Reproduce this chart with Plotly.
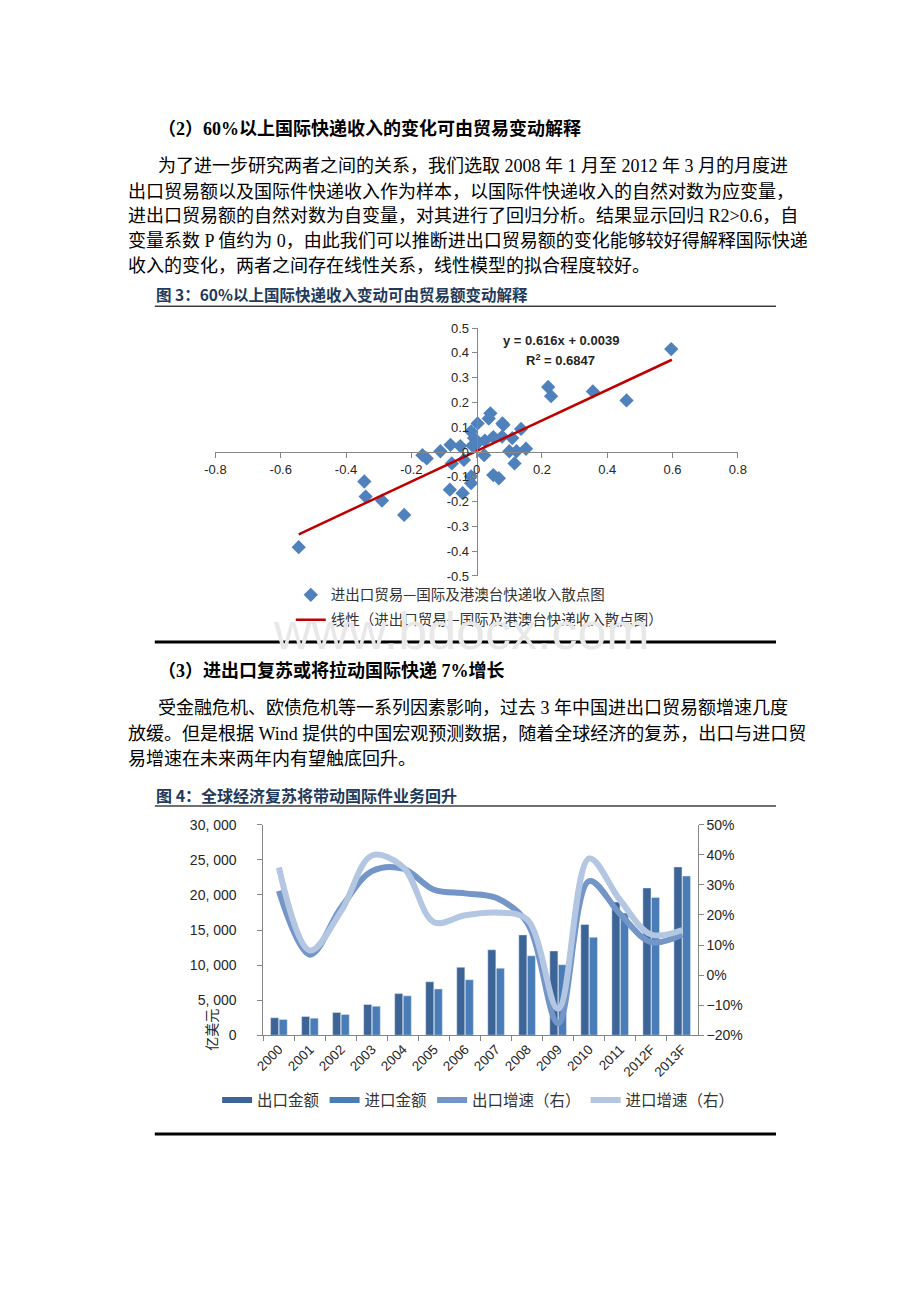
import plotly.graph_objects as go

W, H = 920, 1302


def px(x):
    return x / W


def py(y):
    return 1 - y / H


# ---------------- Figure 3 data (scatter) ----------------
trade_x = [0.596, 0.219, 0.228, 0.356, 0.459, 0.042, 0.037, 0.003, 0.079, 0.082,
           -0.017, 0.136, 0.109, 0.078, 0.051, 0.025, -0.008, 0.000, -0.013, -0.080,
           -0.050, -0.111, -0.166, -0.153, -0.076, -0.039, 0.023, 0.100, 0.122, 0.151,
           0.116, 0.051, 0.068, -0.017, -0.017, -0.082, -0.043, -0.344, -0.340, -0.290,
           -0.222, -0.545]
express_y = [0.415, 0.262, 0.225, 0.244, 0.208, 0.156, 0.135, 0.115, 0.115, 0.109,
             0.083, 0.093, 0.056, 0.062, 0.060, 0.046, 0.056, 0.033, 0.026, 0.029,
             0.024, 0.003, -0.013, -0.026, -0.046, -0.032, -0.013, 0.003, 0.003, 0.013,
             -0.046, -0.093, -0.106, -0.099, -0.126, -0.152, -0.166, -0.119, -0.180, -0.196,
             -0.254, -0.384]
trend_x = [-0.545, 0.598]
trend_y = [-0.332, 0.372]
f3_xticks = [-0.8, -0.6, -0.4, -0.2, 0, 0.2, 0.4, 0.6, 0.8]
f3_xlabels = ["-0.8", "-0.6", "-0.4", "-0.2", "0", "0.2", "0.4", "0.6", "0.8"]
f3_yticks = [0.5, 0.4, 0.3, 0.2, 0.1, 0, -0.1, -0.2, -0.3, -0.4, -0.5]
f3_ylabels = ["0.5", "0.4", "0.3", "0.2", "0.1", "0", "-0.1", "-0.2", "-0.3", "-0.4", "-0.5"]
f3_scatter_name = "进出口贸易—国际及港澳台快递收入散点图"
f3_trend_name = "线性（进出口贸易—国际及港澳台快递收入散点图）"
f3_equation = "y = 0.616x + 0.0039"
f3_r2 = "R<sup>2</sup> = 0.6847"

# ---------------- Figure 4 data (bars + lines) ----------------
years = ["2000", "2001", "2002", "2003", "2004", "2005", "2006", "2007", "2008",
         "2009", "2010", "2011", "2012F", "2013F"]
export_amt = [2492, 2661, 3256, 4382, 5933, 7620, 9690, 12178, 14307, 12016,
              15778, 18984, 21000, 24000]
import_amt = [2251, 2436, 2952, 4128, 5612, 6600, 7916, 9558, 11326, 10056,
              13962, 17435, 19650, 22700]
export_growth = [28.0, 6.8, 22.4, 34.6, 35.4, 28.4, 27.2, 25.7, 17.5, -16.0,
                 31.3, 20.3, 11.0, 13.5]
import_growth = [35.8, 8.2, 21.2, 39.8, 36.0, 17.6, 19.9, 20.8, 18.5, -11.2,
                 38.8, 24.9, 13.5, 15.0]
f4_lticks = [0, 5000, 10000, 15000, 20000, 25000, 30000]
f4_llabels = ["0", "5, 000", "10, 000", "15, 000", "20, 000", "25, 000", "30, 000"]
f4_names = ["出口金额", "进口金额", "出口增速（右）", "进口增速（右）"]

# ---------------- Text ----------------
heading2 = "<b>（2）60%以上国际快递收入的变化可由贸易变动解释</b>"
para1 = [
    "为了进一步研究两者之间的关系，我们选取 2008 年 1 月至 2012 年 3 月的月度进",
    "出口贸易额以及国际件快递收入作为样本，以国际件快递收入的自然对数为应变量，",
    "进出口贸易额的自然对数为自变量，对其进行了回归分析。结果显示回归 R2>0.6，自",
    "变量系数 P 值约为 0，由此我们可以推断进出口贸易额的变化能够较好得解释国际快递",
    "收入的变化，两者之间存在线性关系，线性模型的拟合程度较好。",
]
caption3 = "<b>图 3：60%以上国际快递收入变动可由贸易额变动解释</b>"
heading3 = "<b>（3）进出口复苏或将拉动国际快递 7%增长</b>"
para2 = [
    "受金融危机、欧债危机等一系列因素影响，过去 3 年中国进出口贸易额增速几度",
    "放缓。但是根据 Wind 提供的中国宏观预测数据，随着全球经济的复苏，出口与进口贸",
    "易增速在未来两年内有望触底回升。",
]
caption4 = "<b>图 4：全球经济复苏将带动国际件业务回升</b>"
unit_label = "亿美元"
watermark = "www.bdocx.com"

BODY_FONT = "Liberation Serif, Noto Sans CJK SC"
CJK_FONT = "Noto Sans CJK SC"
LAT_FONT = "Liberation Sans, Noto Sans CJK SC"

EXP_BAR = "#3C6496"
IMP_BAR = "#4A7DB7"
EXP_LINE = "#7495C8"
IMP_LINE = "#B3C6E2"

fig = go.Figure()

# Figure 3 traces
fig.add_trace(go.Scatter(
    x=trade_x, y=express_y, mode="markers", name=f3_scatter_name,
    marker=dict(symbol="diamond", size=11, color="#4F81BD"),
    xaxis="x", yaxis="y", legend="legend", legendgroup="a"))
fig.add_trace(go.Scatter(
    x=trend_x, y=trend_y, mode="lines", name=f3_trend_name,
    line=dict(color="#C00000", width=2.5),
    xaxis="x", yaxis="y", legend="legend", legendgroup="b"))

# Figure 4 traces
fig.add_trace(go.Bar(x=years, y=export_amt, marker_color=EXP_BAR, name=f4_names[0],
                     xaxis="x2", yaxis="y2", showlegend=False))
fig.add_trace(go.Bar(x=years, y=import_amt, marker_color=IMP_BAR, name=f4_names[1],
                     xaxis="x2", yaxis="y2", showlegend=False))
fig.add_trace(go.Scatter(x=years, y=export_growth, mode="lines", name=f4_names[2],
                         line=dict(color=EXP_LINE, width=6, shape="spline", smoothing=1.0),
                         xaxis="x2", yaxis="y3", showlegend=False))
fig.add_trace(go.Scatter(x=years, y=import_growth, mode="lines", name=f4_names[3],
                         line=dict(color=IMP_LINE, width=6, shape="spline", smoothing=1.0),
                         xaxis="x2", yaxis="y3", showlegend=False))
# legend entries for figure 4
for nm, col in zip(f4_names, [EXP_BAR, IMP_BAR, EXP_LINE, IMP_LINE]):
    fig.add_trace(go.Scatter(x=[None], y=[None], mode="lines", name=nm,
                             line=dict(color=col, width=6),
                             xaxis="x2", yaxis="y2", legend="legend2"))

tickfont3 = dict(family=LAT_FONT, size=13, color="#262626")
tickfont4 = dict(family=LAT_FONT, size=14, color="#262626")

fig.update_layout(
    width=W, height=H, margin=dict(l=0, r=0, t=0, b=0),
    paper_bgcolor="white", plot_bgcolor="rgba(0,0,0,0)",
    showlegend=True,
    barmode="group", bargap=0.45, bargroupgap=0.05,
    xaxis=dict(domain=[px(209), px(743)], range=[-0.8, 0.8], anchor="free",
               position=(py(324) + py(575)) / 2,
               tickvals=f3_xticks, ticktext=f3_xlabels, tickfont=tickfont3,
               showline=True, linecolor="#868686", linewidth=1,
               ticks="outside", ticklen=5, tickcolor="#868686",
               showgrid=False, zeroline=False),
    yaxis=dict(domain=[py(575), py(324)], range=[-0.5, 0.5], anchor="free",
               position=(px(209) + px(743)) / 2,
               tickvals=f3_yticks, ticktext=f3_ylabels, tickfont=tickfont3,
               showline=True, linecolor="#868686", linewidth=1,
               ticks="outside", ticklen=5, tickcolor="#868686",
               showgrid=False, zeroline=False),
    xaxis2=dict(domain=[px(258), px(702)], anchor="y2", type="category",
                tickangle=-45, tickfont=dict(family=LAT_FONT, size=13.5, color="#262626"),
                showline=True, linecolor="#868686", linewidth=1,
                ticks="outside", ticklen=5, tickcolor="#868686", tickson="boundaries",
                showgrid=False, zeroline=False),
    yaxis2=dict(domain=[py(1040), py(827)], anchor="x2", range=[0, 30000],
                tickvals=f4_lticks, ticktext=f4_llabels, tickfont=tickfont4,
                showline=True, linecolor="#868686", linewidth=1,
                ticks="outside", ticklen=5, tickcolor="#868686",
                ticklabelstandoff=18,
                showgrid=False, zeroline=False),
    yaxis3=dict(overlaying="y2", side="right", anchor="x2", range=[-20, 50],
                dtick=10, ticksuffix="%", tickfont=tickfont4,
                showline=True, linecolor="#868686", linewidth=1,
                ticks="outside", ticklen=5, tickcolor="#868686",
                showgrid=False, zeroline=False),
    legend=dict(x=px(286), y=py(578), xanchor="left", yanchor="top",
                orientation="v", traceorder="grouped", tracegroupgap=3,
                font=dict(family=CJK_FONT, size=14.5, color="#333333"),
                bgcolor="rgba(0,0,0,0)"),
    legend2=dict(x=px(478), y=py(1106), xanchor="center", yanchor="middle",
                 orientation="h",
                 font=dict(family=CJK_FONT, size=15.5, color="#333333"),
                 bgcolor="rgba(0,0,0,0)"),
)

ann = []


def text(x, y, t, size=18, family=BODY_FONT, color="black", **kw):
    ann.append(dict(x=px(x), y=py(y), xref="paper", yref="paper", text=t,
                    showarrow=False, xanchor="left", yanchor="middle",
                    font=dict(family=family, size=size, color=color), **kw))


text(148, 122, heading2, size=18)
para1_pos = [(148, 160), (118, 186), (118, 211), (118, 236), (118, 261)]
for (x, y), t in zip(para1_pos, para1):
    text(x, y, t)
text(146, 290, caption3, size=15.5, family=CJK_FONT, color="#1F3A5A")
text(148, 671, heading3, size=18)
para2_pos = [(148, 709), (118, 735), (118, 760)]
for (x, y), t in zip(para2_pos, para2):
    text(x, y, t)
text(146, 797, caption4, size=16, family=CJK_FONT, color="#1F3A5A")

# equation text in data coordinates
ann.append(dict(x=0.258, y=0.448, xref="x", yref="y", text="<b>" + f3_equation + "</b>",
                showarrow=False, font=dict(family=LAT_FONT, size=13, color="#262626")))
ann.append(dict(x=0.258, y=0.37, xref="x", yref="y", text="<b>" + f3_r2 + "</b>",
                showarrow=False, font=dict(family=LAT_FONT, size=13, color="#262626")))

# unit label (rotated, below the "5, 000" tick label)
ann.append(dict(x=px(205), y=py(1035), xref="paper", yref="paper", text=unit_label,
                textangle=-90, showarrow=False, xanchor="center", yanchor="middle",
                font=dict(family=CJK_FONT, size=14, color="#262626")))

# watermark
ann.append(dict(x=px(460), y=py(631), xref="paper", yref="paper", text=watermark,
                showarrow=False, xanchor="center", yanchor="middle",
                font=dict(family=LAT_FONT, size=52, color="#E8E8E8")))

fig.update_layout(annotations=ann)

shapes = []
for y, w, c in [(302, 1.5, "#404040"), (642, 3, "black"), (808, 1.5, "#404040"), (1140, 3, "black")]:
    shapes.append(dict(type="line", xref="paper", yref="paper", x0=px(147), x1=px(782),
                       y0=py(y), y1=py(y), line=dict(color=c, width=w)))
fig.update_layout(shapes=shapes)

fig.write_html("out.html")
